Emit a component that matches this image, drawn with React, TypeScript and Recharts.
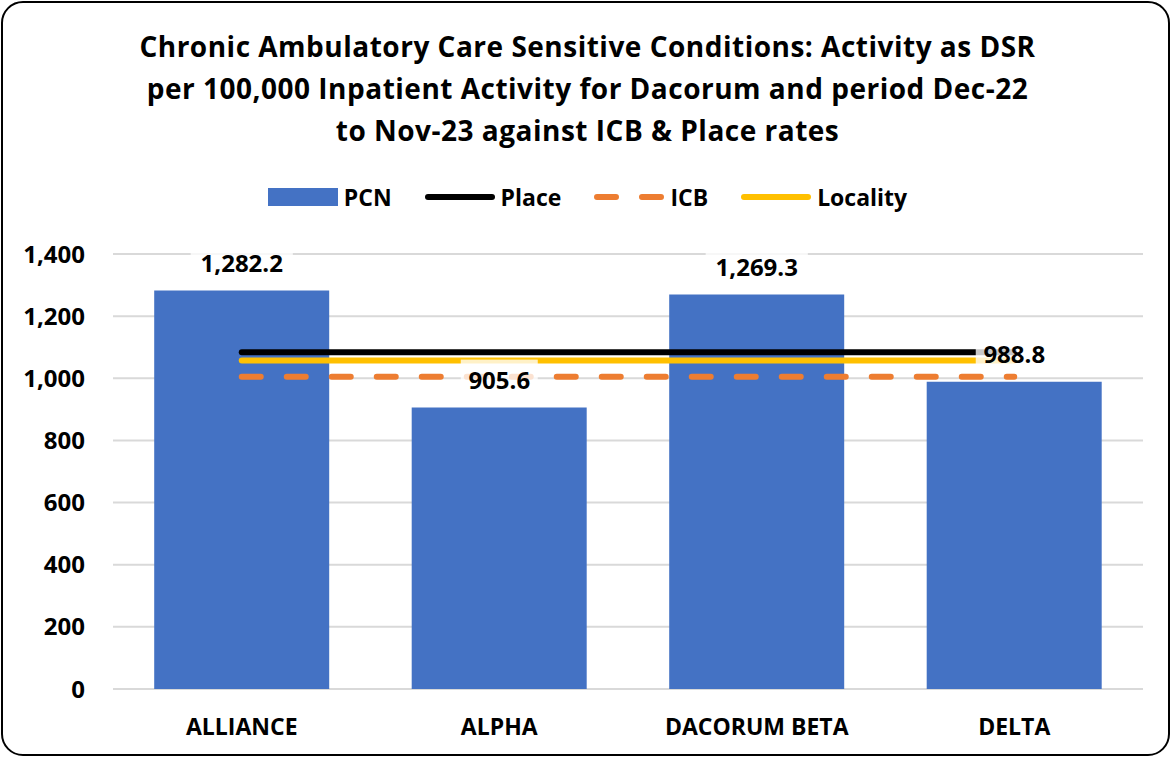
import {
  ComposedChart,
  Bar,
  Line,
  XAxis,
  YAxis,
  CartesianGrid,
  Legend
} from "recharts";

const pcnNames: string[] = ["ALLIANCE", "ALPHA", "DACORUM BETA", "DELTA"];
const pcnRates: number[] = [1282.2, 905.6, 1269.3, 988.8];
const placeRates: number[] = [1084, 1084, 1084, 1084];
const icbRates: number[] = [1005, 1005, 1005, 1005];
const localityRates: number[] = [1057, 1057, 1057, 1057];
const yTicks: number[] = [0, 200, 400, 600, 800, 1000, 1200, 1400];

const titleLines: string[] = [
  "Chronic Ambulatory Care Sensitive Conditions: Activity as DSR",
  "per 100,000 Inpatient Activity for Dacorum and period Dec-22",
  "to Nov-23 against ICB & Place rates"
];

const data = pcnNames.map((name, i) => ({
  name,
  pcn: pcnRates[i],
  place: placeRates[i],
  icb: icbRates[i],
  locality: localityRates[i]
}));

const FONT = "'Open Sans', 'Noto Sans', sans-serif";
const BLUE = "#4472C4";
const ORANGE = "#ED7D31";
const YELLOW = "#FFC000";

const fmtTick = (v: number) => v.toLocaleString("en-GB");
const fmtValue = (v: number) =>
  v.toLocaleString("en-GB", { minimumFractionDigits: 1, maximumFractionDigits: 1 });

// value label with the half see-through white box Excel puts behind it
const ValueLabel = (props: any) => {
  const { x, y, value } = props;
  if (x == null || y == null || value == null) return null;
  const text = fmtValue(Number(value));
  const w = text.length * 12.6 + 14;
  const cy = y - 27;
  return (
    <g>
      <rect x={x - w / 2} y={cy - 21} width={w} height={38} fill='#fff' fillOpacity={0.78} />
      <text
        x={x}
        y={cy}
        dy='0.36em'
        textAnchor='middle'
        fontFamily={FONT}
        fontWeight={700}
        fontSize={24}
        fill='#000'
      >
        {text}
      </text>
    </g>
  );
};

const legendItems = [
  { label: "PCN", kind: "rect", color: BLUE },
  { label: "Place", kind: "line", color: "#000" },
  { label: "ICB", kind: "dash", color: ORANGE },
  { label: "Locality", kind: "line", color: YELLOW }
];

const CustomLegend = () => (
  <div
    style={{
      display: "flex",
      justifyContent: "center",
      alignItems: "center",
      gap: 33,
      fontFamily: FONT,
      fontWeight: 700,
      fontSize: 23,
      color: "#000"
    }}
  >
    {legendItems.map((item) => (
      <div key={item.label} style={{ display: "flex", alignItems: "center", gap: 6 }}>
        <svg width={70} height={20}>
          {item.kind === "rect" && <rect x={0} y={1} width={70} height={18} fill={BLUE} />}
          {item.kind === "line" && (
            <line x1={3} y1={10} x2={67} y2={10} stroke={item.color} strokeWidth={6} strokeLinecap='round' />
          )}
          {item.kind === "dash" && (
            <line
              x1={3}
              y1={10}
              x2={67}
              y2={10}
              stroke={item.color}
              strokeWidth={6}
              strokeLinecap='round'
              strokeDasharray='19 26'
            />
          )}
        </svg>
        <span>{item.label}</span>
      </div>
    ))}
  </div>
);

const App = () => {
  return (
    <div
      style={{
        position: "absolute",
        left: 0,
        top: 0,
        width: 1175,
        height: 759,
        background: "#fff",
        overflow: "hidden"
      }}
    >
      <div
        style={{
          position: "absolute",
          left: 1,
          top: 1,
          width: 1169,
          height: 755,
          border: "2px solid #000",
          borderRadius: 22,
          boxSizing: "border-box"
        }}
      />
      <div
        style={{
          position: "absolute",
          top: 25,
          left: 0,
          width: 1175,
          textAlign: "center",
          fontFamily: FONT,
          fontWeight: 700,
          fontSize: 28,
          letterSpacing: 0.5,
          lineHeight: "42px",
          color: "#000"
        }}
      >
        {titleLines.map((t) => (
          <div key={t}>{t}</div>
        ))}
      </div>
      <div style={{ position: "absolute", left: 0, top: 0 }}>
        <ComposedChart
          width={1175}
          height={759}
          data={data}
          margin={{ top: 254, right: 32, left: 13, bottom: 20 }}
          barCategoryGap='16%'
        >
          <CartesianGrid vertical={false} stroke='#d9d9d9' strokeWidth={2} />
          <XAxis
            dataKey='name'
            height={50}
            axisLine={false}
            tickLine={false}
            tickSize={0}
            tickMargin={30}
            tick={{ fontSize: 23, fontWeight: 700, fill: "#000", fontFamily: FONT }}
          />
          <YAxis
            width={100}
            domain={[0, 1400]}
            ticks={yTicks}
            axisLine={false}
            tickLine={false}
            tickSize={0}
            tickMargin={28}
            tickFormatter={fmtTick}
            tick={{ fontSize: 24, fontWeight: 700, fill: "#000", fontFamily: FONT }}
          />
          <Legend
            layout='horizontal'
            verticalAlign='middle'
            align='center'
            wrapperStyle={{ top: 181, left: 0, width: 1175 }}
            content={<CustomLegend />}
          />
          <Bar dataKey='pcn' name='PCN' fill={BLUE} isAnimationActive={false} />
          <Line
            dataKey='place'
            name='Place'
            stroke='#000'
            strokeWidth={6}
            strokeLinecap='round'
            dot={false}
            activeDot={false}
            isAnimationActive={false}
          />
          <Line
            dataKey='locality'
            name='Locality'
            stroke={YELLOW}
            strokeWidth={6}
            strokeLinecap='round'
            dot={false}
            activeDot={false}
            isAnimationActive={false}
          />
          <Line
            dataKey='icb'
            name='ICB'
            stroke={ORANGE}
            strokeWidth={6}
            strokeLinecap='round'
            strokeDasharray='19 26'
            dot={false}
            activeDot={false}
            isAnimationActive={false}
          />
          {/* invisible series that only carries the PCN labels, so they sit above the lines */}
          <Line
            dataKey='pcn'
            stroke='none'
            legendType='none'
            dot={false}
            activeDot={false}
            label={<ValueLabel />}
            isAnimationActive={false}
          />
        </ComposedChart>
      </div>
    </div>
  );
};

export default App;
